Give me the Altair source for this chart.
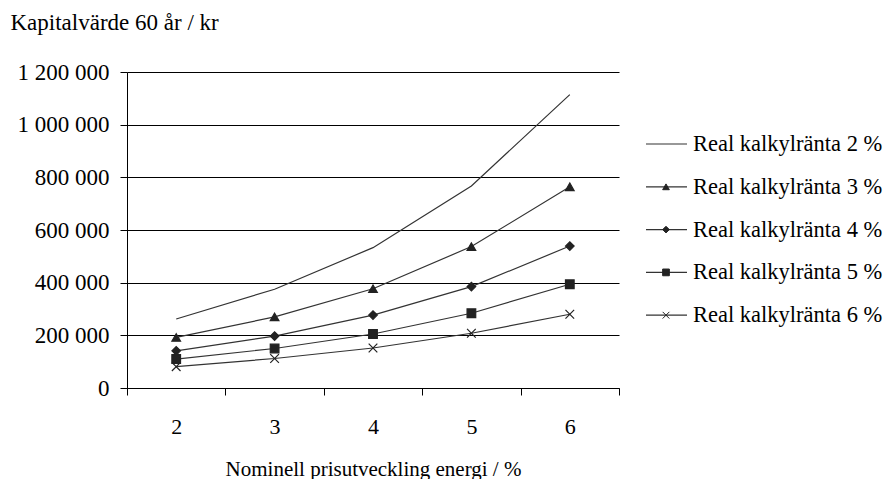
import altair as alt
import pandas as pd

energi = ["2", "3", "4", "5", "6"]
serier = ["Real kalkylränta 2 %", "Real kalkylränta 3 %", "Real kalkylränta 4 %",
          "Real kalkylränta 5 %", "Real kalkylränta 6 %"]
v2 = [262000, 375000, 533000, 767000, 1114000]
v3 = [192000, 270000, 377000, 537000, 764000]
v4 = [141000, 197000, 277000, 385000, 539000]
v5 = [110000, 150000, 205000, 284000, 394000]
v6 = [81000, 112000, 152000, 208000, 280000]
y_ticks = [0, 200000, 400000, 600000, 800000, 1000000, 1200000]

rows = []
for s, vals in zip(serier, [v2, v3, v4, v5, v6]):
    for e, v in zip(energi, vals):
        rows.append({"Energi": e, "Serie": s, "Värde": v})
df = pd.DataFrame(rows)

FONT = "Liberation Serif"
shape_scale = alt.Scale(
    domain=serier[1:],
    range=["triangle-up", "diamond", "square", "M-1,-1L1,1M-1,1L1,-1"],
)

x = alt.X("Energi:O", sort=energi,
          scale=alt.Scale(paddingInner=0, paddingOuter=0),
          axis=alt.Axis(title="Nominell prisutveckling energi / %", labelAngle=0,
                        tickBand="extent", tickSize=7, tickColor="black",
                        domainColor="black", labelPadding=21, titlePadding=21,
                        labelFontSize=22, titleFontSize=21,
                        grid=False))
y = alt.Y("Värde:Q",
          scale=alt.Scale(domain=[0, 1200000], nice=False),
          axis=alt.Axis(values=y_ticks, title="Kapitalvärde 60 år / kr",
                        labelExpr="replace(format(datum.value, ','), regexp(',', 'g'), ' ')",
                        tickSize=7, tickColor="black", domainColor="black",
                        gridColor="black", gridOpacity=1, gridWidth=1,
                        labelFontSize=23, titleFontSize=23,
                        labelPadding=11, titleAngle=0, titleAlign="left",
                        titleBaseline="alphabetic", titleX=-117, titleY=-43))

lines = alt.Chart(df).mark_line(color="#333333", strokeWidth=1.2).encode(
    x=x, y=y, detail="Serie:N")
points = alt.Chart(df).transform_filter(
    alt.datum.Serie != serier[0]
).mark_point(filled=True, color="#222222", stroke="#222222", strokeWidth=1.2,
             size=75, opacity=1).encode(
    x=x, y=y, shape=alt.Shape("Serie:N", scale=shape_scale, legend=None))

main = alt.layer(lines, points).properties(width=492, height=316)

leg_df = pd.DataFrame({"Serie": serier, "Nr": list(range(len(serier)))})
ly = alt.Y("Nr:Q", axis=None,
           scale=alt.Scale(domain=[-72 / 42.8, (316 - 72) / 42.8], reverse=True, nice=False, zero=False))
leg_rule = alt.Chart(leg_df).mark_rule(color="#333333", strokeWidth=1.2).encode(
    y=ly, x=alt.value(6), x2=alt.value(47))
leg_pts = alt.Chart(leg_df).transform_filter(
    alt.datum.Serie != serier[0]
).mark_point(filled=True, color="#222222", stroke="#222222", strokeWidth=1,
             size=45, opacity=1).encode(
    y=ly, x=alt.value(26), shape=alt.Shape("Serie:N", scale=shape_scale, legend=None))
leg_txt = alt.Chart(leg_df).mark_text(align="left", baseline="middle", font=FONT,
                                      fontSize=22.5, color="black").encode(
    y=ly, x=alt.value(53), text="Serie:N")
legend = alt.layer(leg_rule, leg_pts, leg_txt).properties(width=240, height=316)

chart = alt.hconcat(main, legend, spacing=20).properties(
    padding={"left": 10, "top": 11, "right": 0, "bottom": 0},
    background="white",
).configure_view(stroke=None).configure_axis(
    labelFont=FONT, titleFont=FONT,
    labelColor="black", titleColor="black", titleFontWeight="normal",
).resolve_scale(shape="shared")

chart.save("out.html", embed_options={"renderer": "svg", "actions": False})
